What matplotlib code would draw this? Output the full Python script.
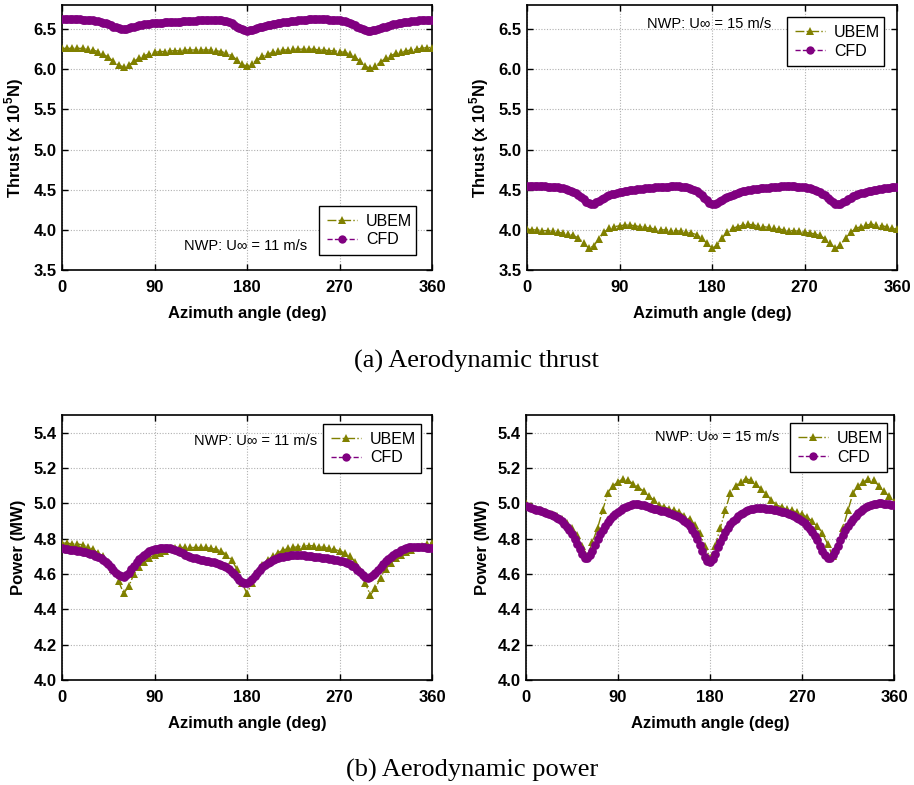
import numpy as np
import matplotlib
matplotlib.use("Agg")
import matplotlib.pyplot as plt
from matplotlib.lines import Line2D

plt.rcParams["font.family"] = ["Liberation Sans", "DejaVu Sans"]
plt.rcParams["mathtext.fontset"] = "custom"
plt.rcParams["mathtext.rm"] = "Liberation Sans"
plt.rcParams["mathtext.bf"] = "Liberation Sans:bold"

# Azimuth angles (deg): UBEM sampled every 5 deg, CFD every 2.5 deg
azimuth_ubem = np.arange(0, 360.1, 5.0)
azimuth_cfd = np.arange(0, 360.1, 2.5)

# Thrust (x 1e5 N), U = 11 m/s
thrust11_ubem = [6.26, 6.26, 6.26, 6.26, 6.26, 6.25, 6.24, 6.22, 6.19, 6.15, 6.10, 6.05, 6.03,
                 6.05, 6.10, 6.14, 6.17, 6.19, 6.21, 6.22, 6.22, 6.23, 6.23, 6.23, 6.24,
                 6.24, 6.24, 6.24, 6.24, 6.24, 6.23, 6.22, 6.20, 6.17, 6.12, 6.06, 6.04,
                 6.07, 6.12, 6.16, 6.19, 6.21, 6.23, 6.24, 6.24, 6.25, 6.25, 6.25, 6.25,
                 6.25, 6.24, 6.24, 6.23, 6.23, 6.22, 6.21, 6.19, 6.15, 6.10, 6.04, 6.01,
                 6.04, 6.09, 6.14, 6.17, 6.20, 6.21, 6.23, 6.24, 6.25, 6.26, 6.27, 6.27]
thrust11_cfd = [6.620, 6.620, 6.620, 6.620, 6.620, 6.620, 6.620, 6.620, 6.618, 6.615,
                6.612, 6.610, 6.608, 6.604, 6.598, 6.590, 6.580, 6.570, 6.558, 6.545,
                6.532, 6.520, 6.510, 6.503, 6.500, 6.503, 6.510, 6.520, 6.530, 6.540,
                6.548, 6.555, 6.560, 6.565, 6.568, 6.571, 6.574, 6.577, 6.580, 6.582,
                6.584, 6.586, 6.588, 6.590, 6.591, 6.592, 6.594, 6.596, 6.598, 6.600,
                6.602, 6.604, 6.606, 6.608, 6.610, 6.612, 6.614, 6.616, 6.618, 6.618,
                6.617, 6.614, 6.610, 6.604, 6.596, 6.584, 6.570, 6.552, 6.532, 6.512,
                6.495, 6.484, 6.480, 6.483, 6.490, 6.500, 6.510, 6.520, 6.530, 6.540,
                6.548, 6.555, 6.562, 6.568, 6.574, 6.580, 6.585, 6.590, 6.594, 6.598,
                6.602, 6.606, 6.610, 6.613, 6.616, 6.618, 6.620, 6.621, 6.622, 6.622,
                6.622, 6.622, 6.621, 6.620, 6.618, 6.616, 6.614, 6.611, 6.608, 6.604,
                6.598, 6.590, 6.580, 6.566, 6.550, 6.532, 6.514, 6.498, 6.487, 6.481,
                6.480, 6.484, 6.492, 6.502, 6.512, 6.522, 6.532, 6.541, 6.550, 6.558,
                6.565, 6.572, 6.578, 6.584, 6.589, 6.594, 6.598, 6.602, 6.605, 6.608,
                6.610, 6.612, 6.613, 6.614, 6.615]

# Thrust (x 1e5 N), U = 15 m/s
thrust15_ubem = [4.01, 4.00, 4.00, 3.99, 3.99, 3.98, 3.97, 3.96, 3.95, 3.93, 3.90, 3.84, 3.77,
                 3.80, 3.89, 3.97, 4.02, 4.04, 4.05, 4.06, 4.06, 4.05, 4.04, 4.03, 4.02,
                 4.01, 4.00, 4.00, 3.99, 3.99, 3.98, 3.97, 3.96, 3.94, 3.90, 3.83, 3.77,
                 3.81, 3.90, 3.97, 4.02, 4.04, 4.06, 4.07, 4.06, 4.05, 4.04, 4.03, 4.02,
                 4.01, 4.00, 3.99, 3.99, 3.98, 3.97, 3.96, 3.95, 3.93, 3.89, 3.83, 3.77,
                 3.81, 3.90, 3.97, 4.02, 4.04, 4.06, 4.07, 4.06, 4.05, 4.04, 4.02, 4.01]
thrust15_cfd = [4.540, 4.541, 4.542, 4.542, 4.542, 4.542, 4.541, 4.540, 4.539, 4.537,
                4.535, 4.532, 4.528, 4.523, 4.516, 4.508, 4.498, 4.486, 4.471, 4.453,
                4.432, 4.408, 4.380, 4.352, 4.330, 4.322, 4.328, 4.343, 4.362, 4.381,
                4.400, 4.416, 4.430, 4.442, 4.452, 4.461, 4.468, 4.475, 4.481, 4.487,
                4.492, 4.497, 4.501, 4.505, 4.509, 4.513, 4.516, 4.519, 4.522, 4.525,
                4.528, 4.530, 4.532, 4.534, 4.536, 4.538, 4.540, 4.541, 4.541, 4.540,
                4.538, 4.535, 4.530, 4.523, 4.512, 4.497, 4.478, 4.455, 4.428, 4.398,
                4.367, 4.338, 4.322, 4.324, 4.337, 4.356, 4.376, 4.395, 4.412, 4.427,
                4.440, 4.452, 4.462, 4.471, 4.479, 4.486, 4.492, 4.498, 4.503, 4.508,
                4.512, 4.516, 4.520, 4.524, 4.527, 4.530, 4.533, 4.536, 4.538, 4.540,
                4.541, 4.542, 4.542, 4.541, 4.540, 4.538, 4.536, 4.533, 4.529, 4.524,
                4.518, 4.510, 4.500, 4.487, 4.471, 4.452, 4.429, 4.402, 4.373, 4.344,
                4.324, 4.320, 4.328, 4.344, 4.363, 4.382, 4.400, 4.416, 4.430, 4.443,
                4.454, 4.464, 4.473, 4.481, 4.488, 4.494, 4.500, 4.505, 4.510, 4.515,
                4.520, 4.525, 4.529, 4.533, 4.537]

# Power (MW), U = 11 m/s
power11_ubem = [4.775, 4.775, 4.77, 4.77, 4.765, 4.755, 4.74, 4.72, 4.70, 4.67, 4.63, 4.56, 4.49,
                4.53, 4.60, 4.64, 4.67, 4.69, 4.71, 4.72, 4.73, 4.74, 4.745, 4.75, 4.75,
                4.75, 4.75, 4.75, 4.75, 4.745, 4.74, 4.73, 4.71, 4.68, 4.63, 4.55, 4.49,
                4.55, 4.61, 4.65, 4.68, 4.70, 4.72, 4.735, 4.745, 4.75, 4.755, 4.76, 4.76,
                4.76, 4.755, 4.75, 4.745, 4.74, 4.73, 4.72, 4.70, 4.67, 4.62, 4.55, 4.48,
                4.52, 4.58, 4.63, 4.66, 4.69, 4.71, 4.725, 4.735, 4.75, 4.76, 4.77, 4.775]
power11_cfd = [4.745, 4.742, 4.740, 4.738, 4.736, 4.734, 4.732, 4.730, 4.727, 4.724,
               4.720, 4.716, 4.711, 4.704, 4.696, 4.688, 4.678, 4.667, 4.654, 4.640,
               4.624, 4.608, 4.594, 4.586, 4.585, 4.592, 4.608, 4.628, 4.648, 4.667,
               4.684, 4.698, 4.710, 4.720, 4.728, 4.734, 4.739, 4.743, 4.746, 4.748,
               4.749, 4.748, 4.746, 4.742, 4.737, 4.731, 4.724, 4.717, 4.710, 4.704,
               4.698, 4.693, 4.688, 4.684, 4.681, 4.678, 4.675, 4.672, 4.669, 4.666,
               4.662, 4.658, 4.653, 4.646, 4.638, 4.627, 4.614, 4.598, 4.582, 4.567,
               4.555, 4.549, 4.550, 4.558, 4.573, 4.590, 4.608, 4.624, 4.638, 4.650,
               4.660, 4.669, 4.677, 4.684, 4.690, 4.695, 4.699, 4.702, 4.704, 4.706,
               4.707, 4.708, 4.708, 4.707, 4.706, 4.704, 4.702, 4.700, 4.698, 4.696,
               4.694, 4.692, 4.690, 4.688, 4.686, 4.684, 4.681, 4.678, 4.675, 4.671,
               4.666, 4.661, 4.655, 4.647, 4.637, 4.624, 4.609, 4.594, 4.583, 4.579,
               4.582, 4.592, 4.607, 4.624, 4.641, 4.657, 4.671, 4.684, 4.696, 4.707,
               4.717, 4.726, 4.734, 4.741, 4.746, 4.750, 4.753, 4.754, 4.754, 4.753,
               4.752, 4.750, 4.748, 4.746, 4.745]

# Power (MW), U = 15 m/s
power15_ubem = [5.00, 4.985, 4.97, 4.96, 4.95, 4.94, 4.93, 4.91, 4.89, 4.86, 4.82, 4.76, 4.70,
                4.78, 4.86, 4.96, 5.06, 5.10, 5.12, 5.14, 5.13, 5.11, 5.09, 5.07, 5.04,
                5.02, 4.99, 4.98, 4.97, 4.96, 4.95, 4.93, 4.91, 4.88, 4.83, 4.76, 4.69,
                4.76, 4.86, 4.96, 5.06, 5.10, 5.12, 5.14, 5.13, 5.11, 5.08, 5.05, 5.02,
                4.99, 4.98, 4.97, 4.96, 4.95, 4.94, 4.92, 4.90, 4.87, 4.83, 4.77, 4.70,
                4.77, 4.86, 4.96, 5.06, 5.10, 5.12, 5.14, 5.13, 5.10, 5.07, 5.04, 5.01]
power15_cfd = [4.985, 4.980, 4.975, 4.970, 4.965, 4.960, 4.955, 4.950, 4.945, 4.940,
               4.934, 4.927, 4.919, 4.910, 4.898, 4.884, 4.867, 4.847, 4.824, 4.798,
               4.770, 4.740, 4.712, 4.693, 4.690, 4.705, 4.733, 4.765, 4.796, 4.824,
               4.850, 4.873, 4.893, 4.911, 4.927, 4.941, 4.953, 4.964, 4.973, 4.981,
               4.987, 4.991, 4.994, 4.995, 4.994, 4.992, 4.989, 4.985, 4.980, 4.975,
               4.970, 4.966, 4.962, 4.958, 4.954, 4.950, 4.945, 4.940, 4.935, 4.929,
               4.922, 4.913, 4.902, 4.888, 4.871, 4.850, 4.825, 4.796, 4.764, 4.731,
               4.699, 4.676, 4.670, 4.685, 4.715, 4.750, 4.783, 4.812, 4.838, 4.861,
               4.881, 4.899, 4.914, 4.927, 4.938, 4.947, 4.955, 4.961, 4.966, 4.970,
               4.972, 4.973, 4.973, 4.972, 4.970, 4.968, 4.966, 4.963, 4.960, 4.957,
               4.953, 4.949, 4.944, 4.939, 4.933, 4.926, 4.918, 4.909, 4.899, 4.887,
               4.873, 4.857, 4.838, 4.816, 4.790, 4.760, 4.730, 4.705, 4.691, 4.692,
               4.706, 4.730, 4.760, 4.791, 4.820, 4.847, 4.872, 4.894, 4.913, 4.930,
               4.945, 4.958, 4.969, 4.978, 4.986, 4.992, 4.996, 4.999, 5.000, 5.000,
               4.999, 4.997, 4.995, 4.992, 4.990]

x_ticks = [0, 90, 180, 270, 360]
thrust_ticks = [3.5, 4.0, 4.5, 5.0, 5.5, 6.0, 6.5]
power_ticks = [4.0, 4.2, 4.4, 4.6, 4.8, 5.0, 5.2, 5.4]

OLIVE = "#808000"
PURPLE = "#800080"

fig = plt.figure(figsize=(9.14, 7.85), dpi=100)
W, H = 914.0, 785.0


def make_axes(left, top, right, bottom):
    return fig.add_axes([left / W, 1 - bottom / H, (right - left) / W, (bottom - top) / H])


panels = [
    dict(box=(62, 5, 432, 270), ubem=thrust11_ubem, cfd=thrust11_cfd, ylim=(3.5, 6.8),
         yticks=thrust_ticks, ylabel=r"Thrust (x 10$^{\mathbf{5}}$N)",
         note="NWP: U\u221e = 11 m/s", note_xy=(246, 246), leg=(319, 206, 416, 255)),
    dict(box=(527, 5, 897, 270), ubem=thrust15_ubem, cfd=thrust15_cfd, ylim=(3.5, 6.8),
         yticks=thrust_ticks, ylabel=r"Thrust (x 10$^{\mathbf{5}}$N)",
         note="NWP: U\u221e = 15 m/s", note_xy=(709, 24), leg=(787, 17, 884, 66)),
    dict(box=(62, 415, 432, 680), ubem=power11_ubem, cfd=power11_cfd, ylim=(4.0, 5.5),
         yticks=power_ticks, ylabel="Power (MW)",
         note="NWP: U\u221e = 11 m/s", note_xy=(256, 441), leg=(323, 424, 421, 473)),
    dict(box=(526, 415, 894, 680), ubem=power15_ubem, cfd=power15_cfd, ylim=(4.0, 5.5),
         yticks=power_ticks, ylabel="Power (MW)",
         note="NWP: U\u221e = 15 m/s", note_xy=(717, 437), leg=(790, 423, 887, 471)),
]

for p in panels:
    l, t, r, b = p["box"]
    ax = make_axes(l, t, r, b)
    ax.plot(azimuth_ubem, p["ubem"], color=OLIVE, linestyle="-.", linewidth=1.0,
            marker="^", markersize=6, markeredgewidth=0, zorder=3)
    ax.plot(azimuth_cfd, p["cfd"], color=PURPLE, linestyle="--", linewidth=1.0,
            marker="o", markersize=6.3, markeredgewidth=0, zorder=4)
    ax.set_xlim(0, 360)
    ax.set_ylim(*p["ylim"])
    ax.set_xticks(x_ticks)
    ax.set_xticklabels([str(v) for v in x_ticks], fontsize=12, fontweight="bold")
    ax.set_yticks(p["yticks"])
    ax.set_yticklabels(["{:.1f}".format(v) for v in p["yticks"]], fontsize=12,
                       fontweight="bold")
    ax.tick_params(direction="in", length=4, width=1.0, top=True, right=True, colors="black")
    ax.tick_params(axis="x", pad=7)
    ax.tick_params(axis="y", pad=4)
    ax.grid(True, color="#b0b0b0", linestyle=(0, (1, 1.5)), linewidth=0.8)
    ax.set_axisbelow(True)
    for s in ax.spines.values():
        s.set_linewidth(1.2)
    ax.set_xlabel("Azimuth angle (deg)", fontsize=12, fontweight="bold", labelpad=8)
    ax.set_ylabel(p["ylabel"], fontsize=12, fontweight="bold", labelpad=5)

    nx, ny = p["note_xy"]
    fig.text(nx / W, 1 - ny / H, p["note"], fontsize=10.5, ha="center", va="center")

    ll, lt, lr, lb = p["leg"]
    handles = [
        Line2D([], [], color=OLIVE, linestyle="-.", linewidth=1.0, marker="^",
               markersize=6, markeredgewidth=0),
        Line2D([], [], color=PURPLE, linestyle="--", linewidth=1.0, marker="o",
               markersize=6, markeredgewidth=0),
    ]
    leg = ax.legend(handles, ["UBEM", "CFD"], loc="upper left",
                    bbox_to_anchor=((ll - l) / (r - l), 1 - (lb - t) / (b - t),
                                    (lr - ll) / (r - l), (lb - lt) / (b - t)),
                    mode="expand", prop={"size": 11.5}, frameon=True, fancybox=False,
                    edgecolor="black", framealpha=1, handlelength=1.9,
                    handletextpad=0.55, borderaxespad=0, borderpad=0.5,
                    labelspacing=0.22, numpoints=1)
    leg.get_frame().set_linewidth(1.0)

fig.text(476 / W, 1 - 361 / H, "(a) Aerodynamic thrust", fontsize=19,
         family=["Liberation Serif"], ha="center", va="center")
fig.text(472 / W, 1 - 770 / H, "(b) Aerodynamic power", fontsize=19,
         family=["Liberation Serif"], ha="center", va="center")

fig.savefig("out.png", dpi=100)
